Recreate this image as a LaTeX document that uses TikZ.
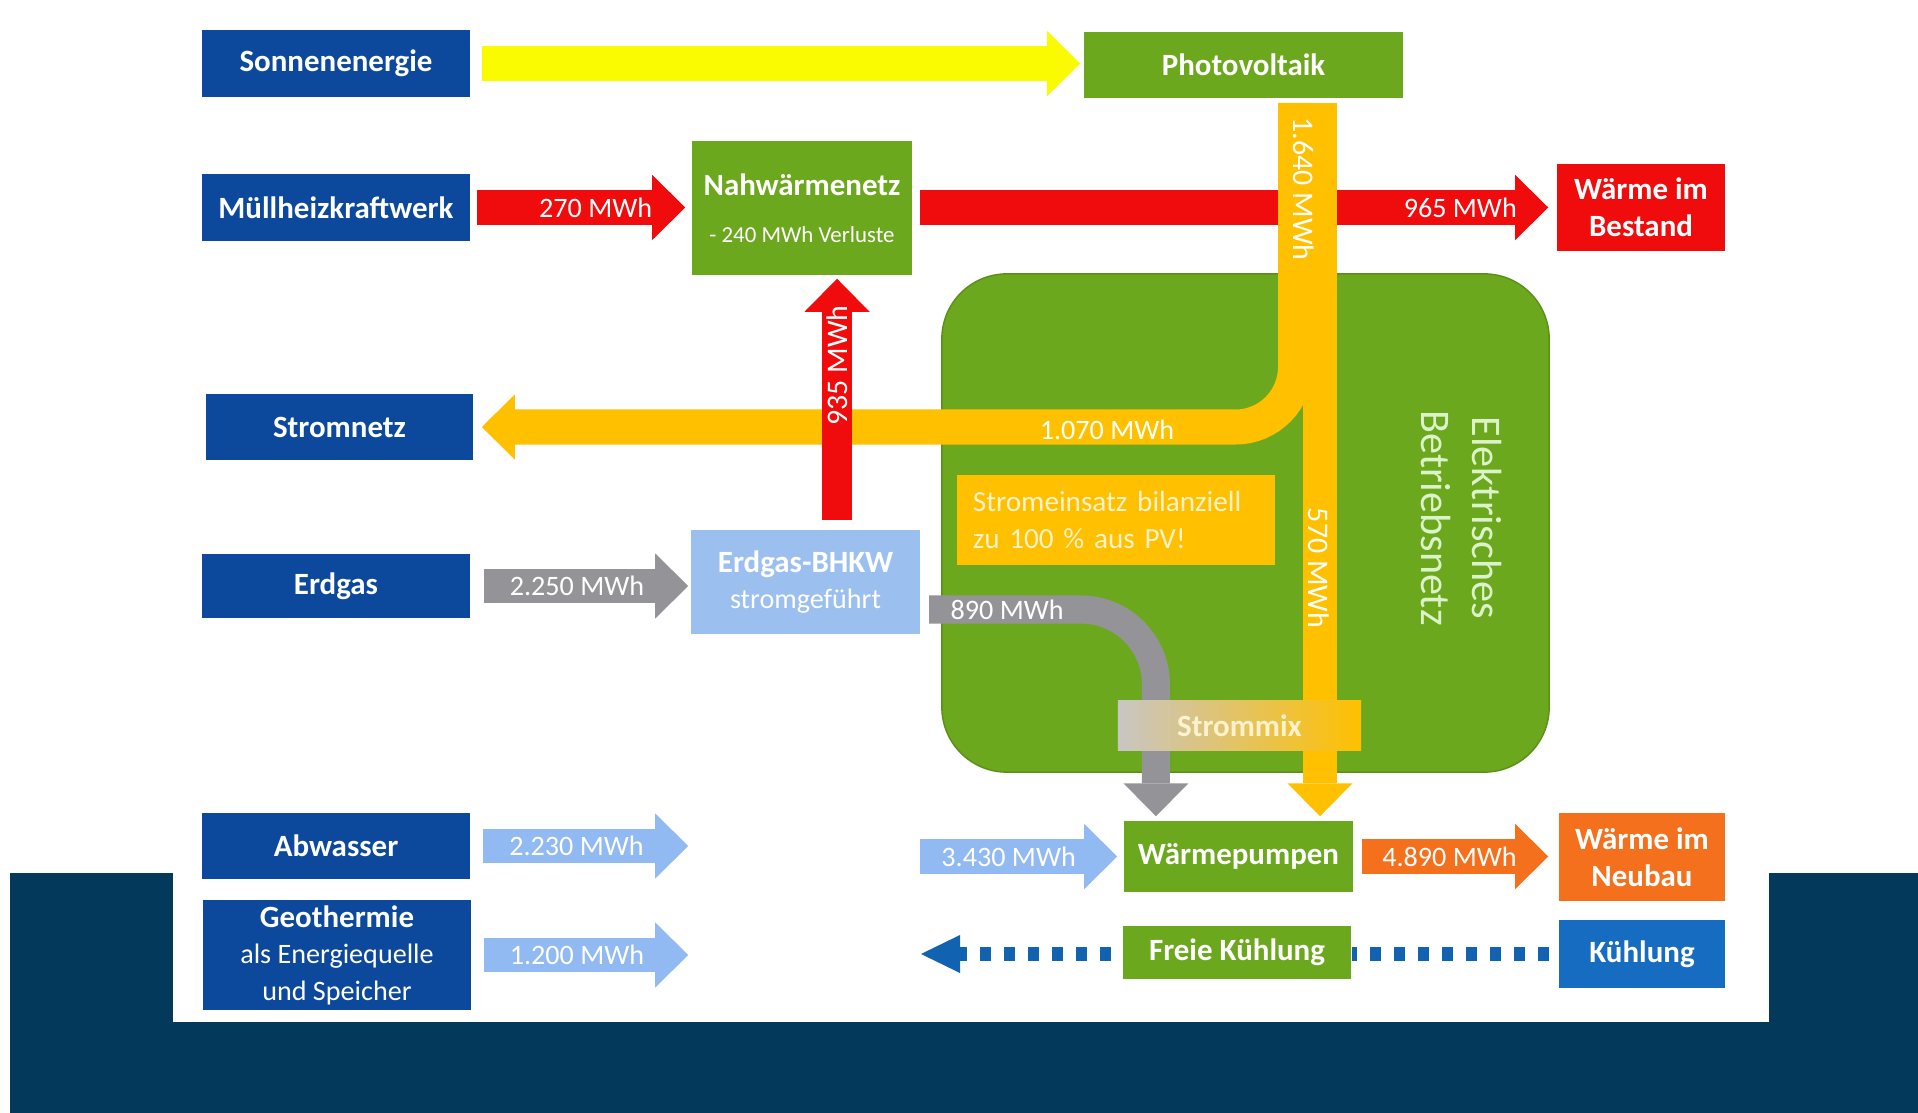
\documentclass[tikz,border=0pt]{standalone}
\usepackage{fontspec}
\setmainfont{Carlito}
\usetikzlibrary{arrows.meta}

\definecolor{nachtblau}{RGB}{3,58,92}
\definecolor{boxblau}{RGB}{12,72,156}
\definecolor{kuehlblau}{RGB}{22,108,192}
\definecolor{kuehlpfeil}{RGB}{18,98,178}
\definecolor{gruen}{RGB}{108,168,30}
\definecolor{rot}{RGB}{240,12,12}
\definecolor{gelb}{RGB}{250,250,0}
\definecolor{bernstein}{RGB}{255,192,0}
\definecolor{grau}{RGB}{148,148,152}
\definecolor{hellblau}{RGB}{145,185,242}
\definecolor{bhkwblau}{RGB}{155,192,240}
\definecolor{neubauorange}{RGB}{245,112,28}
\definecolor{netztext}{RGB}{220,242,200}
\definecolor{hinweistext}{RGB}{255,242,204}
\definecolor{mixgrau}{RGB}{200,198,196}

\newcommand{\zweitzeile}{\fontsize{8}{10}\selectfont\mdseries}

\tikzset{
  box/.style={fill=#1, text=white, align=center, inner sep=0pt,
              font=\fontsize{8.8}{10.4}\selectfont\bfseries},
  flow/.style={draw=#1, line width=0.34cm,
               -{Triangle[width=0.65cm,length=0.33cm,line width=0pt]}},
  flowlabel/.style={text=white, inner sep=0pt, font=\fontsize{8}{9.6}\selectfont},
  dots/.style={draw=kuehlpfeil, line width=0.13cm, dash pattern=on 0.11cm off 0.13cm}
}

\begin{document}
\begin{tikzpicture}[x=0.01cm, y=-0.01cm]
    % Hintergrund
    \useasboundingbox (0,0) rectangle (1918,1113);
    \fill[white] (0,0) rectangle (1918,1113);
    \fill[nachtblau] (10,873) rectangle (1918,1113);
    \fill[white] (173,0) rectangle (1769,1022);

    % Elektrisches Betriebsnetz
    \node[fill=gruen, draw=gruen!85!black, rounded corners=0.65cm,
          minimum width=6.07cm, minimum height=4.98cm] (netz) at (1245.5,523) {};
    \node[rotate=-90, text=netztext, align=center,
          font=\fontsize{12}{14.5}\selectfont] (netzlabel) at (1461,518) {Elektrisches\\Betriebsnetz};

    % Quellen
    \node[box=boxblau, minimum width=2.68cm, minimum height=0.67cm] (sonne) at (336,63.5) {Sonnenenergie};
    \node[box=boxblau, minimum width=2.68cm, minimum height=0.67cm] (muell) at (336,207.5) {Müllheizkraftwerk};
    \node[box=boxblau, minimum width=2.67cm, minimum height=0.66cm] (stromnetz) at (339.5,427) {Stromnetz};
    \node[box=boxblau, minimum width=2.68cm, minimum height=0.64cm] (erdgas) at (336,586) {Erdgas};
    \node[box=boxblau, minimum width=2.68cm, minimum height=0.66cm] (abwasser) at (336,846) {Abwasser};
    \node[box=boxblau, minimum width=2.68cm, minimum height=1.09cm] (geo) at (337,955)
        {Geothermie\\\zweitzeile als Energiequelle\\\zweitzeile und Speicher};

    % Umwandlung
    \node[box=gruen, minimum width=3.19cm, minimum height=0.66cm] (pv) at (1243.5,65) {Photovoltaik};
    \node[box=gruen, minimum width=2.2cm, minimum height=1.34cm] (nahw) at (802,208)
        {Nahwärmenetz\\[3pt]{\fontsize{6.5}{7.5}\selectfont\mdseries - 240 MWh Verluste}};
    \node[box=bhkwblau, minimum width=2.29cm, minimum height=1.04cm] (bhkw) at (805.5,582)
        {Erdgas-BHKW\\\zweitzeile stromgeführt};
    \node[box=gruen, minimum width=2.29cm, minimum height=0.71cm] (wp) at (1238.5,856.5) {Wärmepumpen};
    \node[box=gruen, minimum width=2.28cm, minimum height=0.53cm] (freie) at (1237,952.5) {Freie Kühlung};
    \node[box=bernstein, text=hinweistext, font=\fontsize{8.3}{10.5}\selectfont, align=left,
          text width=2.86cm, minimum width=3.18cm, minimum height=0.9cm] (hinweis) at (1116,520)
        {Stromeinsatz bilanziell\\zu 100 \% aus PV!};

    % Verbraucher
    \node[box=rot, minimum width=1.68cm, minimum height=0.87cm] (bestand) at (1641,207.5) {Wärme im\\Bestand};
    \node[box=neubauorange, minimum width=1.66cm, minimum height=0.88cm] (neubau) at (1642,857) {Wärme im\\Neubau};
    \node[box=kuehlblau, minimum width=1.66cm, minimum height=0.68cm] (kuehlung) at (1642,954) {Kühlung};

    % Pfeile
    \draw[flow=gelb] ([xshift=0.11cm]sonne.east) -- ([xshift=-0.03cm]sonne.east -| pv.west);
    \draw[flow=rot] ([xshift=0.06cm]muell.east) -- ([xshift=-0.06cm]muell.east -| nahw.west)
        node[flowlabel, pos=0.57] {270 MWh};
    \draw[flow=rot] ([xshift=0.07cm]bestand.west -| nahw.east) -- ([xshift=-0.08cm]bestand.west)
        node[flowlabel, pos=0.86] {965 MWh};
    \draw[flow=grau] ([xshift=0.13cm]erdgas.east) -- ([xshift=-0.02cm]erdgas.east -| bhkw.west)
        node[flowlabel, pos=0.456] {2.250 MWh};
    \draw[flow=hellblau] ([xshift=0.12cm]abwasser.east) -- ([xshift=-0.02cm]abwasser.east -| bhkw.west)
        node[flowlabel, pos=0.456] {2.230 MWh};
    \draw[flow=hellblau] ([xshift=0.12cm]geo.east) -- ([xshift=-0.02cm]geo.east -| bhkw.west)
        node[flowlabel, pos=0.456] {1.200 MWh};
    \draw[flow=hellblau] ([xshift=0.07cm]wp.west -| nahw.east) -- ([xshift=-0.06cm]wp.west)
        node[flowlabel, pos=0.45] {3.430 MWh};
    \draw[flow=neubauorange] ([xshift=0.08cm]wp.east) -- ([xshift=-0.1cm]wp.east -| neubau.west)
        node[flowlabel, pos=0.47] {4.890 MWh};

    % PV-Strom
    \coordinate (pvlinks) at (1295.5,103);
    \coordinate (pvrechts) at (1320,103);
    \draw[flow=bernstein, line width=0.35cm, rounded corners=0.6cm]
        (pvlinks) |- ([xshift=0.08cm]stromnetz.east);
    \draw[flow=bernstein] (pvrechts) -- ([yshift=0.04cm]pvrechts |- wp.north);

    % BHKW
    \draw[flow=rot, line width=0.3cm] ([xshift=0.315cm,yshift=0.09cm]bhkw.north)
        -- ([xshift=0.315cm,yshift=-0.03cm]bhkw.north |- nahw.south)
        node[flowlabel, rotate=90, pos=0.64, font=\fontsize{8.5}{10}\selectfont] {935 MWh};
    \coordinate (bhkwaus) at (929,609.5);
    \draw[flow=grau, line width=0.28cm, rounded corners=0.75cm]
        (bhkwaus) -| ([xshift=-0.825cm,yshift=0.04cm]wp.north);

    \node[left color=mixgrau, right color=bernstein, text=hinweistext, inner sep=0pt,
          font=\fontsize{8.8}{10.4}\selectfont\bfseries,
          minimum width=2.43cm, minimum height=0.49cm] (strommix) at (1239.5,725.5) {Strommix};

    \node[flowlabel, rotate=-90, font=\fontsize{8.5}{10}\selectfont] (l1640) at (1304,189) {1.640 MWh};
    \node[flowlabel] (l1070) at (1107,430) {1.070 MWh};
    \node[flowlabel, rotate=-90, font=\fontsize{8.5}{10}\selectfont] (l570) at (1319,568) {570 MWh};
    \node[flowlabel, anchor=west] (l890) at (950,610) {890 MWh};

    % Kuehlung
    \coordinate (kaltende) at (921,954);
    \draw[dots] ([xshift=-0.09cm]kuehlung.west) -- (kuehlung.west -| freie.east);
    \draw[dots, -{Triangle[width=0.38cm,length=0.39cm,line width=0pt]}]
        ([xshift=-0.11cm]kuehlung.west -| freie.west) -- (kaltende);
\end{tikzpicture}
\end{document}
